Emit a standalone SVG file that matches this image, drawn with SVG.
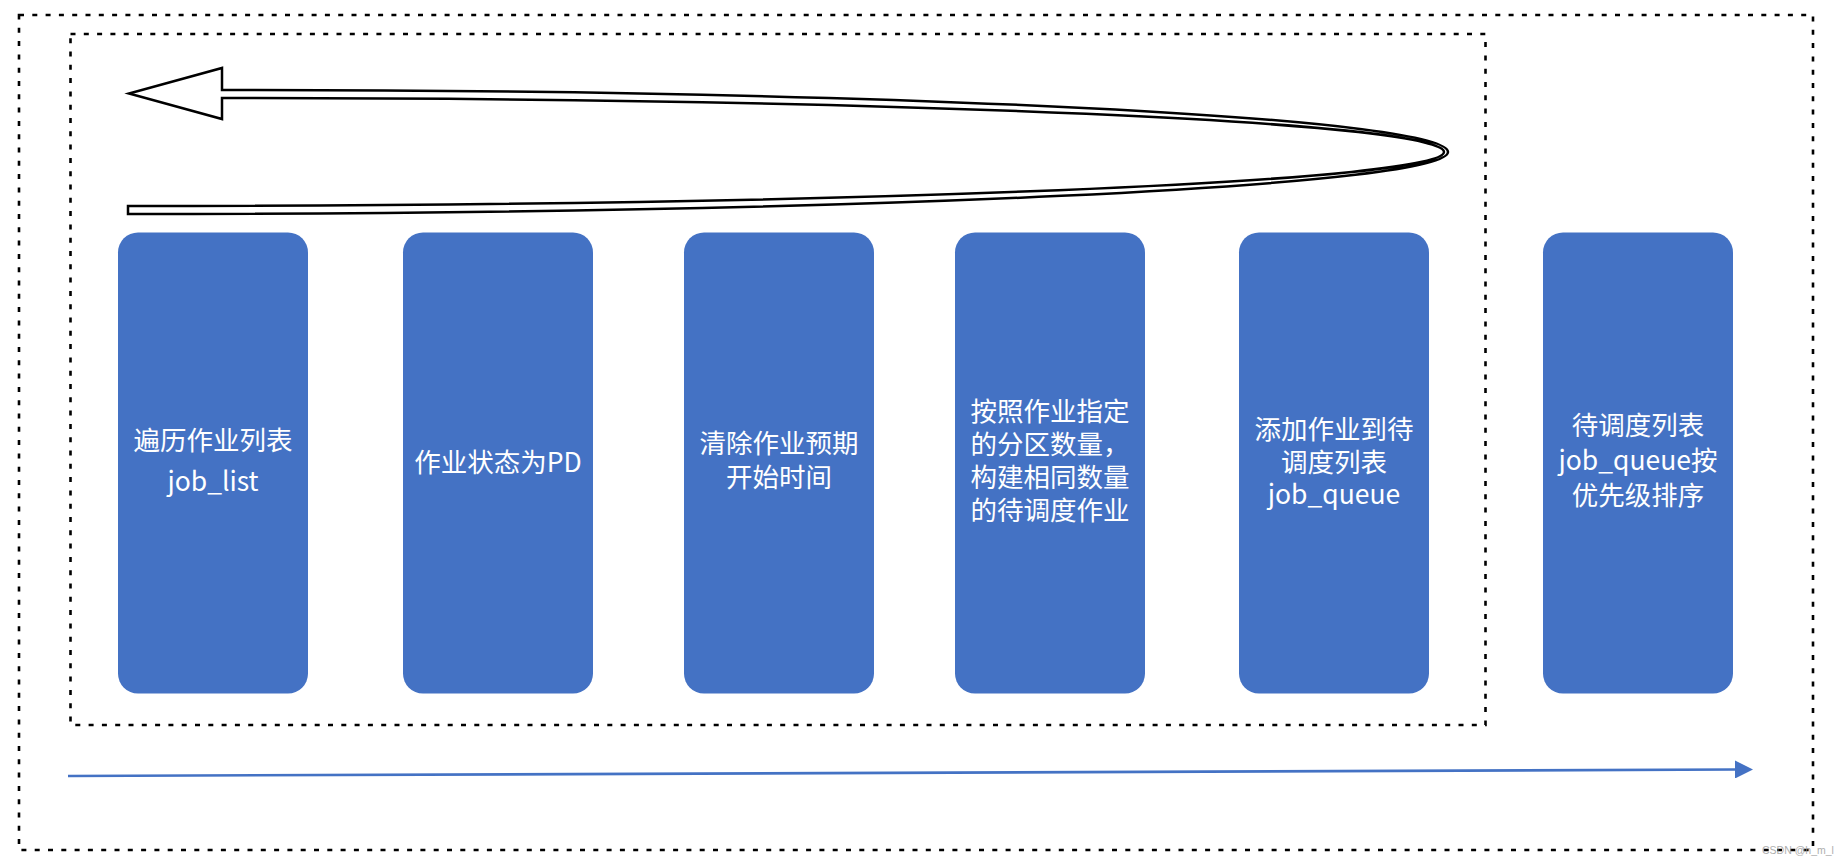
<svg xmlns="http://www.w3.org/2000/svg" width="1846" height="866" viewBox="0 0 1846 866">
<style>
.frame{fill:none;stroke:#000;stroke-width:2.6;stroke-dasharray:5 8.3}
.box{fill:#4472C4}
.lbl{fill:#fff;font-family:"Noto Sans CJK SC","Noto Sans",sans-serif;font-size:26.5px;text-anchor:middle}
.flow{fill:none;stroke:#4472C4;stroke-width:2.7}
.loop{fill:#fff;stroke:#000;stroke-width:2.5;stroke-linejoin:miter}
.wm{fill:#9a9a9a;font-family:"Liberation Sans",Arial,sans-serif;font-size:10.5px;opacity:0.8}
</style>
<defs>
<marker id="head" markerUnits="userSpaceOnUse" markerWidth="18" markerHeight="18" refX="0" refY="9" orient="auto">
<path d="M0,0 L18,9 L0,18 Z" fill="#4472C4"/>
</marker>
</defs>
<rect width="1846" height="866" fill="#fff"/>
<g id="frames">
<rect class="frame" x="19" y="15" width="1794" height="835"/>
<rect class="frame" x="70.5" y="34" width="1415" height="691"/>
</g>
<g id="connectors">
<path class="loop" d="M 128 214 A 1320 62 0 0 0 1448 152 A 1226 62 0 0 0 222 90 L 222 68 L 129 93.5 L 222 119 L 222 98 A 1222 54 0 0 1 1444 152 A 1316 54 0 0 1 128 206 Z"/>
<path class="flow" d="M 68 776 L 1735 769.5" marker-end="url(#head)"/>
</g>
<g id="n1">
<rect class="box" x="118" y="232.5" width="190" height="461" rx="20"/>
<text class="lbl" x="213" y="450">遍历作业列表</text>
<text class="lbl" x="213" y="491">job_list</text>
</g>
<g id="n2">
<rect class="box" x="403" y="232.5" width="190" height="461" rx="20"/>
<text class="lbl" x="498" y="471.5">作业状态为PD</text>
</g>
<g id="n3">
<rect class="box" x="684" y="232.5" width="190" height="461" rx="20"/>
<text class="lbl" x="779" y="452.5">清除作业预期</text>
<text class="lbl" x="779" y="486.5">开始时间</text>
</g>
<g id="n4">
<rect class="box" x="955" y="232.5" width="190" height="461" rx="20"/>
<text class="lbl" x="1050" y="421">按照作业指定</text>
<text class="lbl" x="1050" y="454">的分区数量，</text>
<text class="lbl" x="1050" y="487">构建相同数量</text>
<text class="lbl" x="1050" y="520">的待调度作业</text>
</g>
<g id="n5">
<rect class="box" x="1239" y="232.5" width="190" height="461" rx="20"/>
<text class="lbl" x="1334" y="439">添加作业到待</text>
<text class="lbl" x="1334" y="472">调度列表</text>
<text class="lbl" x="1334" y="504">job_queue</text>
</g>
<g id="n6">
<rect class="box" x="1543" y="232.5" width="190" height="461" rx="20"/>
<text class="lbl" x="1638" y="435">待调度列表</text>
<text class="lbl" x="1638" y="470">job_queue按</text>
<text class="lbl" x="1638" y="505">优先级排序</text>
</g>
<text class="wm" x="1762" y="854">CSDN @h_m_l</text>
</svg>
